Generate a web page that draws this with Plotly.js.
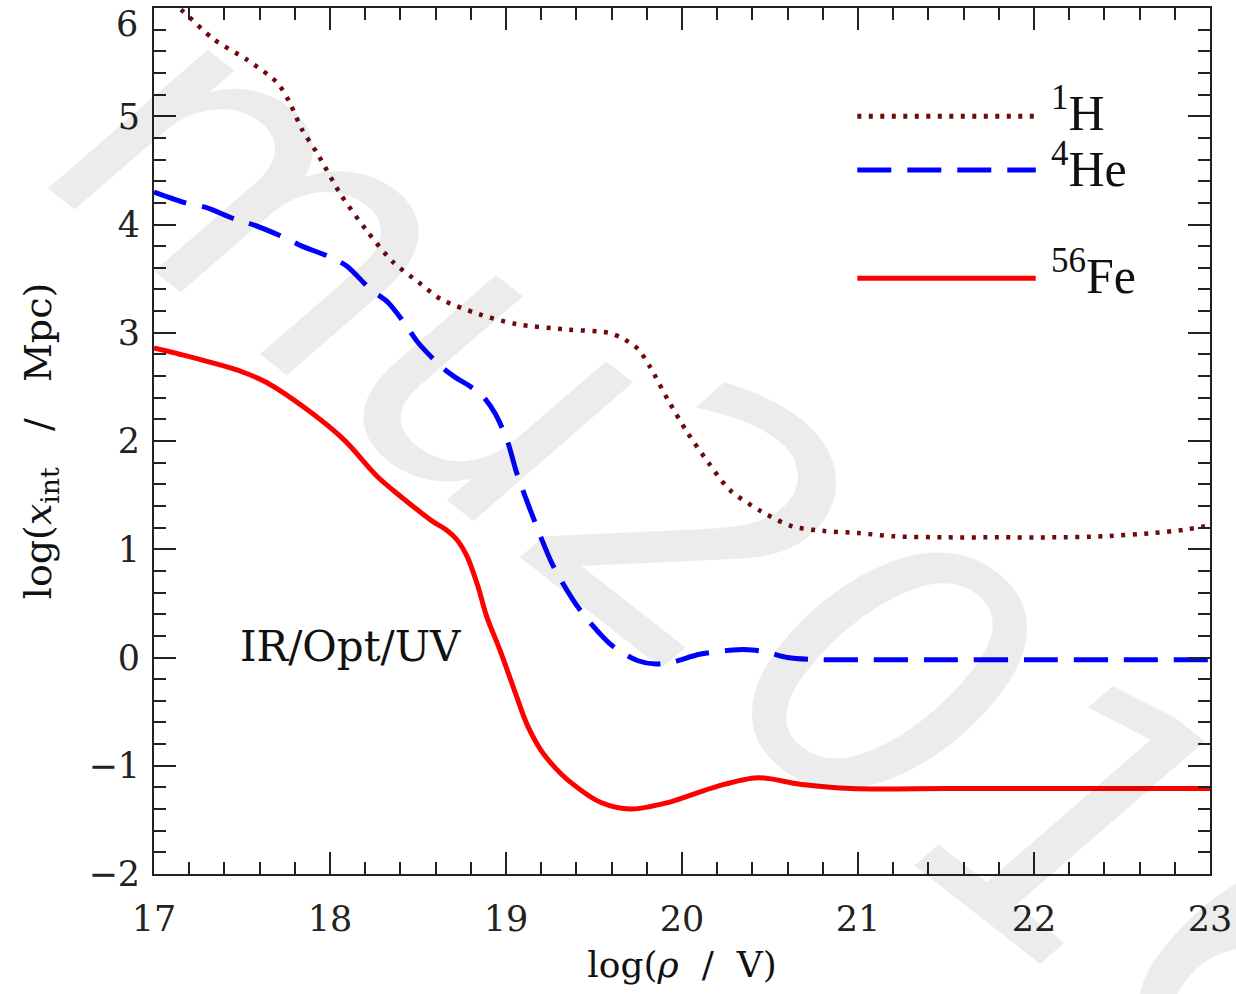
<!DOCTYPE html>
<html>
<head>
<meta charset="utf-8">
<script src="https://cdn.plot.ly/plotly-3.0.1.min.js"></script>
<style>html,body{margin:0;padding:0;background:#fff;}#chart{width:1236px;height:994px;}</style>
</head>
<body>
<div id="chart"></div>
<script>
// log(rho / V) vs log(x_int / Mpc)
const xH = [17.00,17.15,17.34,17.53,17.70,17.77,17.84,17.93,18.06,18.21,18.36,18.50,18.63,18.85,19.06,19.35,19.58,19.66,19.75,19.82,19.92,20.03,20.15,20.27,20.45,20.63,20.80,21.00,21.20,21.50,21.80,22.10,22.40,22.68,22.85,23.00];
const yH = [6.18,5.99,5.71,5.52,5.31,5.13,4.88,4.65,4.28,3.94,3.65,3.47,3.31,3.17,3.08,3.03,3.00,2.95,2.85,2.68,2.38,2.08,1.80,1.55,1.35,1.21,1.17,1.15,1.12,1.11,1.11,1.11,1.12,1.15,1.18,1.22];

const xHe = [17.00,17.18,17.29,17.46,17.56,17.74,17.84,18.00,18.10,18.23,18.33,18.44,18.50,18.63,18.71,18.80,18.87,18.94,19.01,19.06,19.16,19.27,19.42,19.61,19.75,19.85,19.95,20.10,20.29,20.40,20.48,20.60,20.77,21.00,21.50,22.00,22.50,23.00];
const yHe = [4.30,4.20,4.16,4.05,4.00,3.88,3.80,3.70,3.61,3.40,3.28,3.05,2.91,2.69,2.59,2.50,2.41,2.25,1.99,1.71,1.27,0.84,0.44,0.10,-0.03,-0.06,-0.04,0.03,0.07,0.07,0.05,0.00,-0.02,-0.02,-0.02,-0.02,-0.02,-0.02];

const xFe = [17.00,17.20,17.36,17.50,17.64,17.87,18.08,18.27,18.40,18.50,18.59,18.66,18.72,18.78,18.84,18.89,18.97,19.06,19.12,19.20,19.28,19.35,19.54,19.71,19.92,20.20,20.43,20.67,20.96,21.50,22.00,22.50,23.00];
const yFe = [2.86,2.78,2.71,2.64,2.54,2.29,2.01,1.67,1.49,1.36,1.25,1.18,1.09,0.93,0.66,0.38,0.05,-0.36,-0.62,-0.86,-1.02,-1.13,-1.34,-1.40,-1.34,-1.19,-1.11,-1.17,-1.21,-1.21,-1.21,-1.21,-1.21];

const seriesNames = ['<sup>1</sup>H', '<sup>4</sup>He', '<sup>56</sup>Fe'];
const bandLabel = 'IR/Opt/UV';
const watermarkText = 'mu2016';
const yTickVals = [-2, -1, 0, 1, 2, 3, 4, 5];
const yTopTick = '6';

const serif = 'DejaVu Serif, serif';

const traces = [
  {x: xH, y: yH, mode: 'lines', name: seriesNames[0],
   line: {color: '#6e0a0a', width: 4.5, dash: '4px,7.5px', shape: 'spline', smoothing: 0.8}},
  {x: xHe, y: yHe, mode: 'lines', name: seriesNames[1],
   line: {color: '#0000ff', width: 5, dash: '34px,16px', shape: 'spline', smoothing: 0.8}},
  {x: xFe, y: yFe, mode: 'lines', name: seriesNames[2],
   line: {color: '#ff0000', width: 5, shape: 'spline', smoothing: 0.9}}
];

const axisCommon = {
  showgrid: false, zeroline: false, showline: true, linecolor: '#222', linewidth: 2,
  mirror: 'ticks', ticks: 'inside', ticklen: 22, tickwidth: 2, tickcolor: '#222',
  tickfont: {family: serif, size: 35, color: '#222'},
  minor: {ticks: 'inside', ticklen: 12, tickwidth: 2, tickcolor: '#222', dtick: 0.2}
};

const legendY = [0.875, 0.813, 0.688];
const legendTextY = [0.883, 0.818, 0.695];
const legendDash = ['4px,7.5px', '34px,16px', 'solid'];
const legendColor = ['#6e0a0a', '#0000ff', '#ff0000'];
const legendWidth = [5, 5, 5];

const shapes = legendY.map((y, i) => ({
  type: 'line', xref: 'paper', yref: 'paper', x0: 0.666, x1: 0.835, y0: y, y1: y,
  line: {color: legendColor[i], width: legendWidth[i], dash: legendDash[i]}
}));

const annotations = legendTextY.map((y, i) => ({
  xref: 'paper', yref: 'paper', x: 0.848, y: y, xanchor: 'left', yanchor: 'middle',
  text: seriesNames[i], showarrow: false,
  font: {family: 'Liberation Serif, serif', size: 50, color: '#111'}
}));

annotations.push({
  xref: 'x', yref: 'y', x: 17.48, y: 0.1, xanchor: 'left', yanchor: 'middle',
  text: bandLabel, showarrow: false,
  font: {family: serif, size: 42, color: '#111'}
});

// top y tick label (drawn just inside the figure edge, as in the original)
annotations.push({
  xref: 'paper', yref: 'y', x: 0, y: 6, xanchor: 'right', yanchor: 'top',
  xshift: -14, yshift: 6, text: yTopTick, showarrow: false,
  font: {family: serif, size: 35, color: '#222'}
});

annotations.push({
  xref: 'paper', yref: 'paper', x: 0.555, y: 0.36, xanchor: 'center', yanchor: 'middle',
  text: watermarkText, showarrow: false, textangle: 38,
  font: {family: 'DejaVu Sans, sans-serif', size: 380, color: 'rgba(0,0,0,0.075)', style: 'italic'}
});

const layout = {
  width: 1236, height: 994,
  margin: {l: 154, r: 26, t: 8, b: 120},
  paper_bgcolor: '#fff', plot_bgcolor: '#fff',
  showlegend: false,
  xaxis: Object.assign({}, axisCommon, {
    range: [17, 23], dtick: 1, tick0: 17, ticklabelstandoff: 13,
    title: {text: 'log(<i>ρ</i>\u00a0 /\u00a0 V)', font: {family: serif, size: 36, color: '#111'}, standoff: 14}
  }),
  yaxis: Object.assign({}, axisCommon, {
    range: [-2, 6], tickmode: 'array', tickvals: yTickVals, ticklabelstandoff: 5,
    title: {text: 'log(<i>x</i><sub>int</sub>\u00a0\u00a0 /\u00a0\u00a0 Mpc)', font: {family: serif, size: 38, color: '#111'}, standoff: 25}
  }),
  shapes: shapes,
  annotations: annotations
};

Plotly.newPlot('chart', traces, layout, {displayModeBar: false, staticPlot: true});
</script>
</body>
</html>
